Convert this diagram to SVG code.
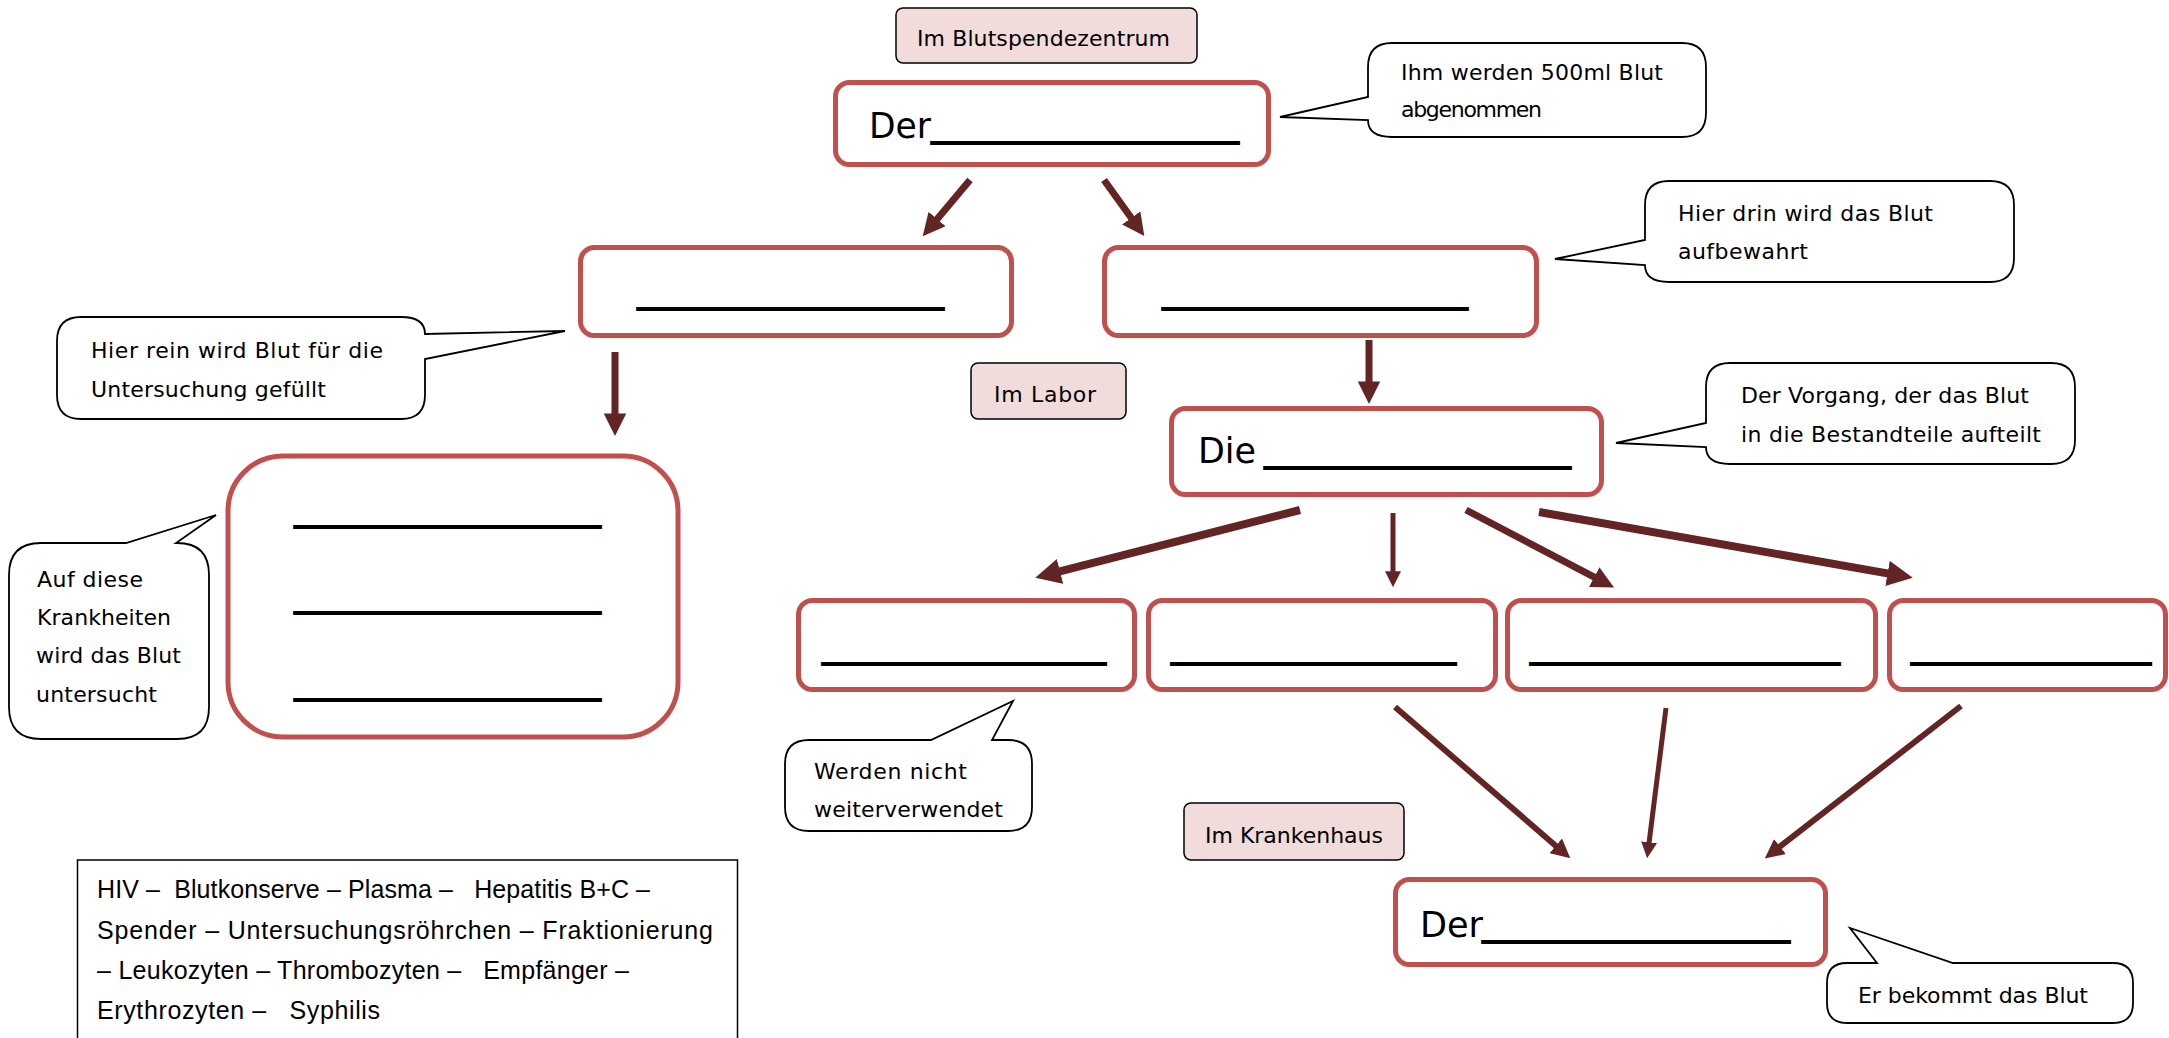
<svg xmlns="http://www.w3.org/2000/svg" width="2169" height="1038" viewBox="0 0 2169 1038">
<defs>
<style>
.box{fill:#fff;stroke:#C0504D;stroke-width:5}
.lbl{fill:#F2DCDB;stroke:#000;stroke-width:1.5}
.bub{fill:#fff;stroke:#000;stroke-width:1.8;stroke-linejoin:miter}
.t{font-family:"DejaVu Sans",sans-serif;font-size:22px;fill:#000}
.big{font-family:"DejaVu Sans",sans-serif;font-size:35px;fill:#000}
.us{font-family:"DejaVu Sans",sans-serif;font-size:30px;fill:#000;stroke:#000;stroke-width:2}
.leg{font-family:"Liberation Sans",Arial,sans-serif;font-size:25px;fill:#000}
.arr{stroke:#632523;fill:none}
</style>
<marker id="ah" viewBox="0 0 10 10" refX="0.5" refY="5" markerWidth="3.2" markerHeight="3.2" orient="auto" markerUnits="strokeWidth">
<path d="M0,0 L10,5 L0,10 z" fill="#632523"/>
</marker>
</defs>
<rect width="2169" height="1038" fill="#fff"/>

<g id="connectors">
<line class="arr" stroke-width="7" x1="970" y1="180" x2="936.4" y2="219.9" marker-end="url(#ah)"/>
<line class="arr" stroke-width="7" x1="1104" y1="180" x2="1131.9" y2="218.8" marker-end="url(#ah)"/>
<line class="arr" stroke-width="7" x1="615" y1="352" x2="615" y2="414.6" marker-end="url(#ah)"/>
<line class="arr" stroke-width="7" x1="1369" y1="340" x2="1369" y2="382.6" marker-end="url(#ah)"/>
<line class="arr" stroke-width="8" x1="1300" y1="510" x2="1058.8" y2="571.7" marker-end="url(#ah)"/>
<line class="arr" stroke-width="5" x1="1393" y1="513" x2="1393" y2="572" marker-end="url(#ah)"/>
<line class="arr" stroke-width="7" x1="1466" y1="510" x2="1595.2" y2="577.6" marker-end="url(#ah)"/>
<line class="arr" stroke-width="8" x1="1539" y1="512" x2="1888.8" y2="573.6" marker-end="url(#ah)"/>
<line class="arr" stroke-width="6" x1="1395" y1="707" x2="1556.5" y2="846.4" marker-end="url(#ah)"/>
<line class="arr" stroke-width="5" x1="1666" y1="708" x2="1649" y2="843.1" marker-end="url(#ah)"/>
<line class="arr" stroke-width="6" x1="1961" y1="706" x2="1779.2" y2="847.2" marker-end="url(#ah)"/>
</g>

<g id="label-blutspendezentrum">
<rect class="lbl" x="896" y="8" width="301" height="55" rx="7"/>
<text class="t" x="917" y="46" textLength="253">Im Blutspendezentrum</text>
</g>

<g id="node-spender">
<rect class="box" x="835.5" y="82.5" width="433" height="82" rx="14"/>
<text class="big" x="869" y="138" textLength="62" lengthAdjust="spacingAndGlyphs">Der</text>
<text class="us" x="932" y="136.5" textLength="306" lengthAdjust="spacingAndGlyphs">______________</text>
</g>

<g id="callout-spender">
<path class="bub" d="M1392,43 H1682 Q1706,43 1706,67 V113 Q1706,137 1682,137 H1392 Q1368,137 1368,120 L1280,117 L1368,97 V67 Q1368,43 1392,43 Z"/>
<text class="t" x="1401" y="80" textLength="262">Ihm werden 500ml Blut</text>
<text class="t" x="1401" y="117" textLength="141">abgenommen</text>
</g>

<g id="node-roehrchen">
<rect class="box" x="580.5" y="247.5" width="431" height="88" rx="14"/>
<text class="us" x="638" y="302.5" textLength="305" lengthAdjust="spacingAndGlyphs">______________</text>
</g>

<g id="callout-roehrchen">
<path class="bub" d="M81,317 H401 Q425,317 425,334 L565,331 L425,359 V395 Q425,419 401,419 H81 Q57,419 57,395 V341 Q57,317 81,317 Z"/>
<text class="t" x="91" y="358" textLength="292">Hier rein wird Blut für die</text>
<text class="t" x="91" y="397" textLength="235">Untersuchung gefüllt</text>
</g>

<g id="node-konserve">
<rect class="box" x="1104.5" y="247.5" width="432" height="88" rx="14"/>
<text class="us" x="1163" y="302.5" textLength="304" lengthAdjust="spacingAndGlyphs">______________</text>
</g>

<g id="callout-konserve">
<path class="bub" d="M1669,181 H1990 Q2014,181 2014,205 V258 Q2014,282 1990,282 H1669 Q1645,282 1645,265 L1555,259 L1645,240 V205 Q1645,181 1669,181 Z"/>
<text class="t" x="1678" y="221" textLength="255">Hier drin wird das Blut</text>
<text class="t" x="1678" y="259" textLength="130">aufbewahrt</text>
</g>

<g id="label-labor">
<rect class="lbl" x="971" y="363" width="155" height="56" rx="7"/>
<text class="t" x="994" y="402" textLength="102">Im Labor</text>
</g>

<g id="node-krankheiten">
<rect class="box" x="228" y="456" width="450" height="281" rx="55"/>
<text class="us" x="295" y="520.5" textLength="305" lengthAdjust="spacingAndGlyphs">______________</text>
<text class="us" x="295" y="606.5" textLength="305" lengthAdjust="spacingAndGlyphs">______________</text>
<text class="us" x="295" y="693.5" textLength="305" lengthAdjust="spacingAndGlyphs">______________</text>
</g>

<g id="callout-krankheiten">
<path class="bub" d="M41,543 H126 L216,515 L176,543 H177 Q209,543 209,575 V707 Q209,739 177,739 H41 Q9,739 9,707 V575 Q9,543 41,543 Z"/>
<text class="t" x="37" y="587" textLength="106">Auf diese</text>
<text class="t" x="37" y="625" textLength="134">Krankheiten</text>
<text class="t" x="36" y="663" textLength="145">wird das Blut</text>
<text class="t" x="36" y="702" textLength="121">untersucht</text>
</g>

<g id="node-fraktionierung">
<rect class="box" x="1171.5" y="408.5" width="430" height="86" rx="14"/>
<text class="big" x="1198" y="463" textLength="58" lengthAdjust="spacingAndGlyphs">Die</text>
<text class="us" x="1265" y="461.5" textLength="305" lengthAdjust="spacingAndGlyphs">______________</text>
</g>

<g id="callout-fraktionierung">
<path class="bub" d="M1730,363 H2051 Q2075,363 2075,387 V440 Q2075,464 2051,464 H1730 Q1706,464 1706,447 L1616,443 L1706,423 V387 Q1706,363 1730,363 Z"/>
<text class="t" x="1741" y="403" textLength="288">Der Vorgang, der das Blut</text>
<text class="t" x="1741" y="442" textLength="300">in die Bestandteile aufteilt</text>
</g>

<g id="node-bestandteil-1">
<rect class="box" x="798.5" y="600.5" width="336" height="89" rx="14"/>
<text class="us" x="823" y="657.5" textLength="282" lengthAdjust="spacingAndGlyphs">____________</text>
</g>
<g id="node-bestandteil-2">
<rect class="box" x="1148.5" y="600.5" width="347" height="89" rx="14"/>
<text class="us" x="1172" y="657.5" textLength="283" lengthAdjust="spacingAndGlyphs">____________</text>
</g>
<g id="node-bestandteil-3">
<rect class="box" x="1507.5" y="600.5" width="368" height="89" rx="14"/>
<text class="us" x="1531" y="657.5" textLength="308" lengthAdjust="spacingAndGlyphs">_____________</text>
</g>
<g id="node-bestandteil-4">
<rect class="box" x="1889.5" y="600.5" width="276" height="89" rx="14"/>
<text class="us" x="1912" y="657.5" textLength="238" lengthAdjust="spacingAndGlyphs">__________</text>
</g>

<g id="callout-bestandteil-1">
<path class="bub" d="M809,740 H931 L1013,701 L992,740 H1008 Q1032,740 1032,764 V807 Q1032,831 1008,831 H809 Q785,831 785,807 V764 Q785,740 809,740 Z"/>
<text class="t" x="814" y="779" textLength="153">Werden nicht</text>
<text class="t" x="814" y="817" textLength="189">weiterverwendet</text>
</g>

<g id="label-krankenhaus">
<rect class="lbl" x="1184" y="803" width="220" height="57" rx="7"/>
<text class="t" x="1205" y="843" textLength="178">Im Krankenhaus</text>
</g>

<g id="node-empfaenger">
<rect class="box" x="1395.5" y="879.5" width="430" height="85" rx="14"/>
<text class="big" x="1420" y="937" textLength="63" lengthAdjust="spacingAndGlyphs">Der</text>
<text class="us" x="1483" y="935.5" textLength="306" lengthAdjust="spacingAndGlyphs">______________</text>
</g>

<g id="callout-empfaenger">
<path class="bub" d="M1847,963 H1877 L1850,928 L1953,963 H2113 Q2133,963 2133,983 V1003 Q2133,1023 2113,1023 H1847 Q1827,1023 1827,1003 V983 Q1827,963 1847,963 Z"/>
<text class="t" x="1858" y="1003" textLength="230">Er bekommt das Blut</text>
</g>

<g id="legend">
<rect x="77.5" y="860" width="660" height="200" fill="#fff" stroke="#000" stroke-width="1.5"/>
<text class="leg" xml:space="preserve" x="97" y="898" textLength="553">HIV –  Blutkonserve – Plasma –   Hepatitis B+C –</text>
<text class="leg" xml:space="preserve" x="97" y="939" textLength="616">Spender – Untersuchungsröhrchen – Fraktionierung</text>
<text class="leg" xml:space="preserve" x="97" y="979" textLength="532">– Leukozyten – Thrombozyten –   Empfänger –</text>
<text class="leg" xml:space="preserve" x="97" y="1019" textLength="283">Erythrozyten –   Syphilis</text>
</g>
</svg>
